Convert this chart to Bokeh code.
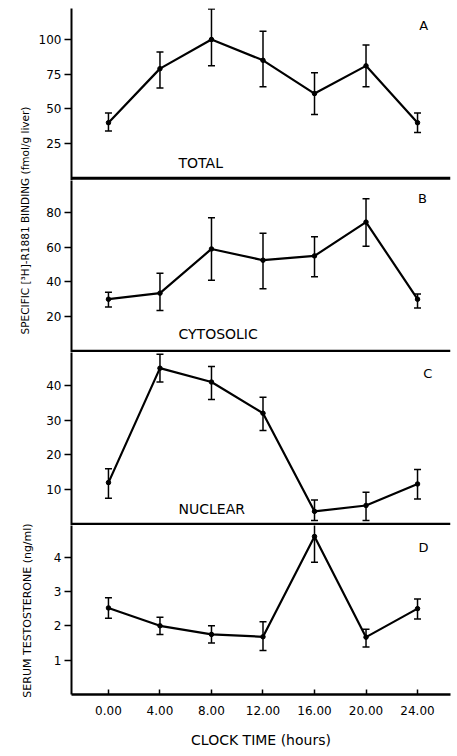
import math
from bokeh.plotting import figure
from bokeh.layouts import row, column
from bokeh.models import (Range1d, FixedTicker, Whisker, TeeHead, Span, Label,
                          ColumnDataSource)
from bokeh.embed import file_html
from bokeh.resources import INLINE

# ---------------- data ----------------
hours = [0, 4, 8, 12, 16, 20, 24]
hour_labels = ["0.00", "4.00", "8.00", "12.00", "16.00", "20.00", "24.00"]

total = [40, 79, 100, 85, 61, 81, 40]
total_lo = [34, 65, 81, 66, 46, 66, 33]
total_hi = [47, 91, 122, 106, 76, 96, 47]

cyto = [30, 33.5, 59, 52.5, 55, 74.5, 30]
cyto_lo = [25.5, 23.5, 41, 36, 43, 60.5, 25]
cyto_hi = [34, 45, 77, 68, 66, 88, 33]

nuclear = [12, 45, 41, 32, 3.7, 5.4, 11.6]
nuclear_lo = [7.5, 41, 36, 27, 1.1, 1.1, 7.3]
nuclear_hi = [16, 49, 45.5, 36.6, 7.0, 9.2, 15.8]

testo = [2.52, 2.0, 1.75, 1.68, 4.6, 1.67, 2.5]
testo_lo = [2.22, 1.75, 1.5, 1.28, 3.85, 1.38, 2.2]
testo_hi = [2.82, 2.25, 2.0, 2.12, 5.0, 1.9, 2.78]

ticks_A = [25, 50, 75, 100]
ticks_B = [20, 40, 60, 80]
ticks_C = [10, 20, 30, 40]
ticks_D = [1, 2, 3, 4]

FONT = "DejaVu Sans"
X_RANGE = (-2.87, 26.56)
W = 421


def make_panel(vals, lo, hi, ticks, yr, h, letter, letter_pos, inner=None,
               inner_pos=None, bottom=False, top=0):
    p = figure(width=W, height=h, output_backend="svg", toolbar_location=None,
               x_range=Range1d(*X_RANGE), y_range=Range1d(*yr),
               x_axis_location="below" if bottom else None,
               min_border_left=37, min_border_right=5, min_border_top=top,
               min_border_bottom=58 if bottom else 0,
               outline_line_color=None, background_fill_color="white",
               border_fill_color="white")
    p.xgrid.visible = False
    p.ygrid.visible = False
    ya = p.yaxis[0]
    ya.ticker = FixedTicker(ticks=ticks)
    ya.axis_line_width = 2
    ya.axis_line_color = "black"
    ya.major_tick_out = 7
    ya.major_tick_in = 0
    ya.major_tick_line_width = 1.5
    ya.minor_tick_line_color = None
    ya.major_label_text_font = FONT
    ya.major_label_text_font_size = "12px"
    ya.major_label_text_color = "black"
    ya.major_label_standoff = 3

    src = ColumnDataSource(dict(x=hours, y=vals, lo=lo, hi=hi))
    p.add_layout(Whisker(source=src, base="x", lower="lo", upper="hi",
                         line_width=1.5, line_color="black",
                         upper_head=TeeHead(size=7, line_width=1.5, line_color="black"),
                         lower_head=TeeHead(size=7, line_width=1.5, line_color="black")))
    p.line("x", "y", source=src, line_width=2.2, line_color="black")
    p.scatter("x", "y", source=src, size=4.5, color="black")

    if not bottom:
        p.add_layout(Span(location=0, dimension="width", line_width=3,
                          line_color="black"))
    else:
        xa = p.xaxis[0]
        xa.ticker = FixedTicker(ticks=hours)
        xa.major_label_overrides = {h_: l for h_, l in zip(hours, hour_labels)}
        xa.axis_line_width = 2.5
        xa.axis_line_color = "black"
        xa.major_tick_in = 5
        xa.major_tick_out = 0
        xa.major_tick_line_width = 1.5
        xa.minor_tick_line_color = None
        xa.major_label_text_font = FONT
        xa.major_label_text_font_size = "12px"
        xa.major_label_text_color = "black"
        xa.major_label_standoff = 11
        xa.axis_label = "CLOCK TIME (hours)"
        xa.axis_label_text_font = FONT
        xa.axis_label_text_font_size = "14px"
        xa.axis_label_text_font_style = "normal"
        xa.axis_label_text_color = "black"
        xa.axis_label_standoff = 14

    p.add_layout(Label(x=letter_pos[0], y=letter_pos[1], text=letter,
                       text_font=FONT, text_font_size="13px",
                       text_align="center", text_baseline="middle",
                       text_color="black"))
    if inner:
        p.add_layout(Label(x=inner_pos[0], y=inner_pos[1], text=inner,
                           text_font=FONT, text_font_size="14px",
                           text_align="left", text_baseline="middle",
                           text_color="black"))
    return p


pA = make_panel(total, total_lo, total_hi, ticks_A, (-1.66, 122.35), 180,
                "A", (24.47, 110), "TOTAL", (5.44, 10.6), top=8)
pB = make_panel(cyto, cyto_lo, cyto_hi, ticks_B, (-0.75, 98.5), 172,
                "B", (24.39, 88), "CYTOSOLIC", (5.44, 10.2))
pC = make_panel(nuclear, nuclear_lo, nuclear_hi, ticks_C, (-0.375, 49.52), 173,
                "C", (24.8, 43.5), "NUCLEAR", (5.44, 4.5))
pD = make_panel(testo, testo_lo, testo_hi, ticks_D, (0, 4.92), 227,
                "D", (24.47, 4.29), bottom=True)

# left strip holding the two rotated y-axis titles
lab = figure(width=34, height=752, output_backend="svg", toolbar_location=None,
             x_range=Range1d(0, 34), y_range=Range1d(0, 752),
             min_border=0, outline_line_color=None,
             x_axis_location=None, y_axis_location=None)
lab.xgrid.visible = False
lab.ygrid.visible = False
lab.add_layout(Label(x=24, y=532, text="SPECIFIC [\u00b3H]-R1881 BINDING (fmol/g liver)",
                     angle=math.pi / 2, text_font=FONT, text_font_size="10.5px",
                     text_align="center", text_baseline="middle", text_color="black"))
lab.add_layout(Label(x=27, y=142, text="SERUM TESTOSTERONE (ng/ml)",
                     angle=math.pi / 2, text_font=FONT, text_font_size="11px",
                     text_align="center", text_baseline="middle", text_color="black"))

layout = row(lab, column(pA, pB, pC, pD, spacing=0), spacing=0)

open("out.html", "w").write(file_html(layout, INLINE))
